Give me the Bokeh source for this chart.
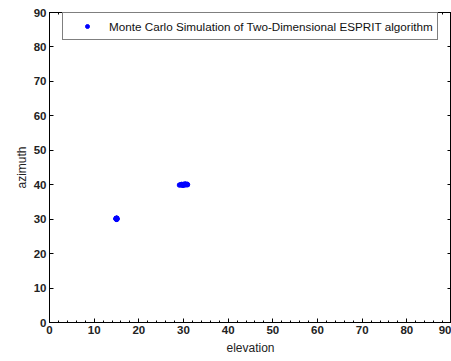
from bokeh.plotting import figure
from bokeh.models import LinearAxis, Range1d, Legend, LegendItem, FixedTicker
from bokeh.embed import file_html
from bokeh.resources import INLINE

# Monte Carlo estimates (elevation, azimuth) in degrees
elev_src1 = [14.9, 15.0, 15.1, 15.0, 14.95, 15.05, 15.1, 14.9, 15.0, 14.95]
azim_src1 = [30.1, 30.2, 30.0, 30.3, 30.2, 30.1, 30.25, 30.15, 29.95, 30.05]
elev_src2 = [29.1, 29.4, 29.6, 29.8, 30.0, 30.2, 30.4, 30.6, 30.8, 29.7, 30.1, 30.5, 29.9, 30.3, 30.9]
azim_src2 = [39.9, 40.0, 40.1, 40.0, 40.05, 39.95, 40.1, 40.0, 40.15, 39.9, 40.05, 40.1, 39.85, 40.2, 40.0]

x_ticks = [0, 10, 20, 30, 40, 50, 60, 70, 80, 90]
y_ticks = [0, 10, 20, 30, 40, 50, 60, 70, 80, 90]
legend_label = "Monte Carlo Simulation of Two-Dimensional ESPRIT algorithm"

FONT = "Liberation Sans"

p = figure(width=451, height=361, output_backend="svg", toolbar_location=None,
           x_range=Range1d(0, 90), y_range=Range1d(0, 90),
           x_axis_location=None, y_axis_location=None,
           min_border_left=49, min_border_right=0, min_border_top=12, min_border_bottom=39)
p.grid.visible = False
p.outline_line_color = "black"
p.outline_line_width = 1
p.background_fill_color = "white"
p.border_fill_color = "white"

def style(ax, labels=True, minor=True):
    ax.axis_line_color = "black"
    ax.major_tick_in = 4
    ax.major_tick_out = 0
    ax.minor_tick_in = 2 if minor else 0
    ax.minor_tick_out = 0
    ax.major_tick_line_color = "black"
    ax.minor_tick_line_color = "black" if minor else None
    ax.major_label_text_font = FONT
    ax.major_label_text_font_size = "11.5px" if labels else "0px"
    ax.major_label_text_font_style = "bold"
    ax.major_label_text_color = "#222222" if labels else None
    ax.major_label_standoff = 3 if labels else 0
    ax.axis_label_text_font = FONT
    ax.axis_label_text_font_size = "12px"
    ax.axis_label_text_font_style = "normal"
    ax.axis_label_text_color = "#222222"

xb = LinearAxis(ticker=FixedTicker(ticks=x_ticks, minor_ticks=list(range(0, 91, 2))), axis_label="elevation")
style(xb)
xb.axis_label_standoff = 4
p.add_layout(xb, "below")
xt = LinearAxis(ticker=FixedTicker(ticks=x_ticks, minor_ticks=list(range(0, 91, 2))))
style(xt, labels=False)
p.add_layout(xt, "above")
yl = LinearAxis(ticker=FixedTicker(ticks=y_ticks), axis_label="azimuth")
style(yl, minor=False)
yl.axis_label_standoff = 2
p.add_layout(yl, "left")
yr = LinearAxis(ticker=FixedTicker(ticks=y_ticks))
style(yr, labels=False, minor=False)
p.add_layout(yr, "right")

r1 = p.scatter(elev_src1, azim_src1, marker="circle", size=4.5, color="#0000ff")
r2 = p.scatter(elev_src2, azim_src2, marker="circle", size=4.5, color="#0000ff")

leg = Legend(items=[LegendItem(label=legend_label, renderers=[r1])],
             location=(13, 282), margin=0, padding=4, spacing=0,
             glyph_width=40, glyph_height=10, label_height=18, label_standoff=2,
             label_text_font=FONT, label_text_font_size="11.7px", label_text_color="#111111",
             border_line_color="black", border_line_width=1, background_fill_alpha=1)
p.add_layout(leg, "center")

open("out.html", "w").write(file_html(p, INLINE))
